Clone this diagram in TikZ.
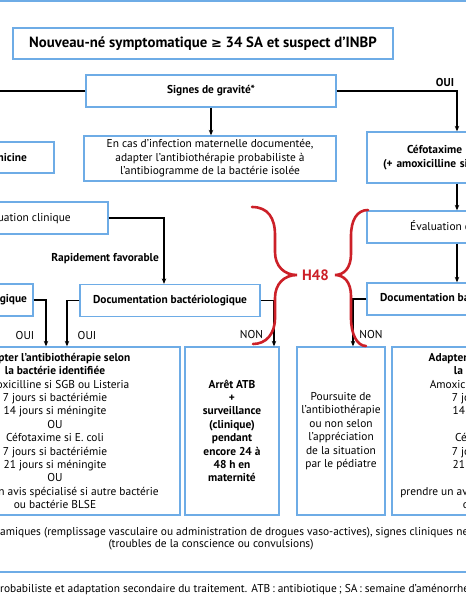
\documentclass[tikz,border=0pt]{standalone}
\usepackage{fontspec}
\setmainfont{PT Sans}
\newfontfamily\symfont{DejaVu Sans}
\usetikzlibrary{arrows.meta,positioning}
\definecolor{boxblue}{RGB}{110,172,230}
\definecolor{hred}{RGB}{204,32,40}
\newcommand{\bodyfont}{\fontsize{11.4}{13.4}\selectfont}
\newcommand{\adapttext}{\textbf{Adapter l’antibiothérapie selon}\\\textbf{la bactérie identifiée}\\Amoxicilline si SGB ou Listeria\\7 jours si bactériémie\\14 jours si méningite\\OU\\Céfotaxime si E. coli\\7 jours si bactériémie\\21 jours si méningite\\OU\\prendre un avis spécialisé si autre bactérie\\ou bactérie BLSE}

\begin{document}
\begin{tikzpicture}[x=1pt,y=-1pt,>={Stealth[length=5.5pt,width=4.5pt]},
  box/.style={draw=boxblue,line width=1.3pt,inner sep=0pt,align=center,font=\bodyfont},
  link/.style={line width=1.1pt},
  brace/.style={draw=hred,line width=2.6pt,line cap=round},
  lbl/.style={font=\bodyfont,inner sep=0pt}]
\useasboundingbox (0,0) rectangle (466,600);
\clip (0,0) rectangle (466,600);
% rules
\draw[boxblue,line width=1.6pt] (0,0.8) -- (466,0.8);
\draw[boxblue,line width=1.6pt] (0,572) -- (466,572);

% top boxes
\node[box,minimum width=380pt,minimum height=31pt,font=\fontsize{14.8}{16}\selectfont\bfseries] (titre) at (203,43.5) {Nouveau-né symptomatique {\symfont\fontsize{13}{16}\selectfont ≥} 34 SA et suspect d’INBP};
\node[box,minimum width=250pt,minimum height=32pt,font=\bodyfont\bfseries] (gravite) at (211,91) {Signes de gravité*};
\node[box,minimum width=252pt,minimum height=45pt] (cas) at (210,158.5) {En cas d’infection maternelle documentée,\\adapter l’antibiothérapie probabiliste à\\l’antibiogramme de la bactérie isolée};
\node[box,minimum width=174pt,minimum height=31pt,font=\bodyfont\bfseries,text width=120pt,align=right] (amoxgen) at (-33,157.5) {micine};
\node[box,minimum width=180pt,minimum height=51pt,font=\bodyfont\bfseries,text width=148pt,align=left] (cefo) at (457,157.5) {\hspace*{24pt}Céfotaxime +\\(+ amoxicilline si};

% evaluation
\node[box,minimum width=168pt,minimum height=32pt] (evalL) at (24,218) {Évaluation clinique};
\node[box,minimum width=180pt,minimum height=32pt] (evalR) at (457,227) {Évaluation clinique};

% documentation
\node[box,minimum width=166pt,minimum height=32pt,font=\bodyfont\bfseries] (docL) at (-50,300) {Documentation bactériologique};
\node[box,minimum width=180pt,minimum height=32pt,font=\bodyfont\bfseries] (docM) at (170,300.5) {Documentation bactériologique};
\node[box,minimum width=180pt,minimum height=32pt,font=\bodyfont\bfseries] (docR) at (457,299) {Documentation bactériologique};

% bottom boxes
\node[box,minimum width=250pt,minimum height=168pt] (adaptL) at (55,431) {\adapttext};
\node[box,minimum width=94pt,minimum height=168pt,font=\bodyfont\bfseries] (arret) at (232,431) {Arrêt ATB\\+\\surveillance\\(clinique)\\pendant\\encore 24 à\\48 h en\\maternité};
\node[box,minimum width=88pt,minimum height=168pt] (poursuite) at (341,431) {Poursuite de\\l’antibiothérapie\\ou non selon\\l’appréciation\\de la situation\\par le pédiatre};
\node[box,minimum width=224pt,minimum height=168pt] (adaptR) at (504,431) {\adapttext};

% connectors
\coordinate (bordG) at (0,91);
\draw[link] (gravite.west) -- (bordG);
\draw[link,->] (gravite.east) -| (cefo.north);
\draw[link,->] (gravite.south) -- (gravite.south |- cas.north);
\draw[link,->] (cefo) -- (evalR);
\draw[link,->] (evalR) -- (docR);
\draw[link,->] (evalL.east) -| ([xshift=-6pt]docM.north);
\draw[link,->] (docL.east) -| ([xshift=-9pt]adaptL.north);
\draw[link,->] (docM.west) -| ([xshift=12pt]adaptL.north);
\draw[link,->] (docM.east) -| ([xshift=42pt]arret.north);
\draw[link,->] (docR.west) -| ([xshift=12pt]poursuite.north);

% labels
\node[lbl,font=\bodyfont\bfseries] (oui0) at (445,83) {OUI};
\node[lbl,font=\bodyfont\bfseries,anchor=east] (rapide) at (159,259) {Rapidement favorable};
\node[lbl] (oui1) at (25,336) {OUI};
\node[lbl] (oui2) at (87,336) {OUI};
\node[lbl] (non1) at (251.5,335) {NON};
\node[lbl] (non2) at (371,335) {NON};

% H48 braces
\draw[brace] (252,207) .. controls (268,207) and (275,218) .. (275,235) -- (275,252) .. controls (275,266) and (284,275) .. (297,275) .. controls (284,275) and (275,284) .. (275,298) -- (275,318) .. controls (275,334) and (266,344) .. (253,344);
\draw[brace] (368,210) .. controls (357,210) and (351,220) .. (351,236) -- (351,254) .. controls (351,268) and (344,275) .. (335,275) .. controls (344,275) and (351,282) .. (351,296) -- (351,318) .. controls (351,334) and (357,346) .. (366,346);
\node[font=\fontsize{15}{17}\selectfont\bfseries,text=hred,inner sep=0pt] (h48) at (315.5,275) {H48};

% notes
\node[lbl,anchor=west] (note1) at (0,533) {amiques (remplissage vasculaire ou administration de drogues vaso-actives), signes cliniques neu};
\node[lbl] (note2) at (211,545) {(troubles de la conscience ou convulsions)};
\node[lbl,anchor=west] (note3) at (0,590) {robabiliste et adaptation secondaire du traitement. ATB\,: antibiotique\,; SA\,: semaine d’aménorrhée};
\end{tikzpicture}
\end{document}
